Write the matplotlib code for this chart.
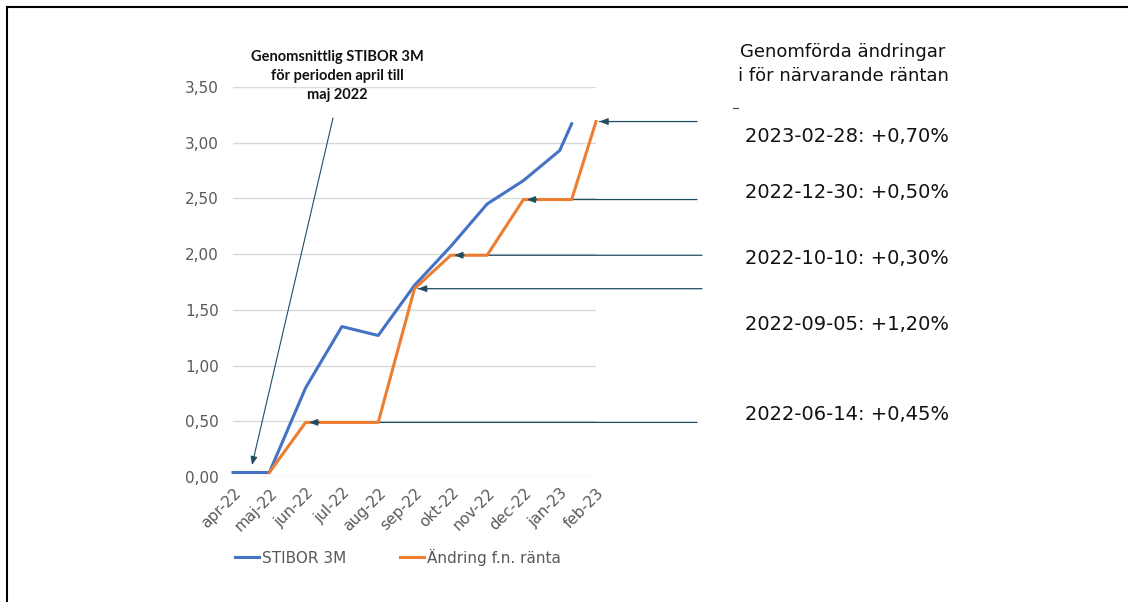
import matplotlib
matplotlib.use("Agg")
import matplotlib.pyplot as plt
from matplotlib.lines import Line2D

# data
months = ["apr-22", "maj-22", "jun-22", "jul-22", "aug-22", "sep-22",
          "okt-22", "nov-22", "dec-22", "jan-23", "feb-23"]
# x as month index (0 = apr-22); last STIBOR point falls part way into jan-feb
stibor_x = [0, 1, 2, 3, 4, 5, 6, 7, 8, 9, 9.33]
stibor_y = [0.04, 0.04, 0.80, 1.35, 1.27, 1.72, 2.07, 2.45, 2.66, 2.93, 3.17]
rate_x = [1, 2, 3, 4, 5, 6, 7, 8, 9, 9.33, 10]
rate_y = [0.04, 0.49, 0.49, 0.49, 1.69, 1.99, 1.99, 2.49, 2.49, 2.49, 3.19]

# rate changes (newest first) and where the arrow hits the orange line
change_labels = ["2023-02-28: +0,70%", "2022-12-30: +0,50%", "2022-10-10: +0,30%",
                 "2022-09-05: +1,20%", "2022-06-14: +0,45%"]
change_x = [10, 8, 6, 5, 2]
change_y = [3.19, 2.49, 1.99, 1.69, 0.49]
label_ypix = [137, 192, 258, 324, 414]

W, H = 1128, 602
fig = plt.figure(figsize=(W / 100, H / 100), dpi=100)
fig.patch.set_facecolor("white")

x0, x1, y0, y1 = 233, 596, 477, 87
ax = fig.add_axes([x0 / W, 1 - y0 / H, (x1 - x0) / W, (y0 - y1) / H])

blue = "#4472C4"
orange = "#ED7D31"
gray = "#595959"
arrow_col = "#1F4E63"

ax.plot(stibor_x, stibor_y, color=blue, lw=2.2, label="STIBOR 3M", clip_on=False, zorder=5)
ax.plot(rate_x, rate_y, color=orange, lw=2.2, label="Ändring f.n. ränta", clip_on=False, zorder=5)

ax.set_xlim(0, 10)
ax.set_ylim(0, 3.5)
ax.set_yticks([0, 0.5, 1, 1.5, 2, 2.5, 3, 3.5])
ax.set_yticklabels([f"{v:.2f}".replace(".", ",") for v in ax.get_yticks()])
ax.set_xticks(range(len(months)))
ax.set_xticklabels(months, rotation=45, ha="right", rotation_mode="anchor")
ax.tick_params(axis="both", length=0, labelsize=11, labelcolor=gray)
ax.tick_params(axis="y", pad=10)
ax.tick_params(axis="x", pad=6)
ax.grid(axis="y", color="#D9D9D9", lw=1)
ax.set_axisbelow(True)
for s in ax.spines.values():
    s.set_visible(False)

# arrows from the right pointing at each change
px = (x1 - x0) / 10.0
py = (y0 - y1) / 3.5
tail_pix = [697, 697, 702, 702, 697]
head_style = "-|>,head_length=0.5,head_width=0.2"
for cx, cy, tp in zip(change_x, change_y, tail_pix):
    hx = cx + 3.5 / px
    # shaft below the lines
    ax.annotate("", xy=(hx, cy), xytext=((tp - x0) / px, cy),
                arrowprops=dict(arrowstyle="-", color=arrow_col, lw=0.9,
                                shrinkA=0, shrinkB=0),
                annotation_clip=False, zorder=4)
    # head on top
    ax.annotate("", xy=(hx, cy), xytext=(hx + 10 / px, cy),
                arrowprops=dict(arrowstyle=head_style, color=arrow_col, lw=0.9,
                                shrinkA=0, shrinkB=0),
                annotation_clip=False, zorder=6)

# long arrow to the apr-maj average
ax.annotate("", xy=((252 - x0) / px, (y0 - 465) / py),
            xytext=((333 - x0) / px, (y0 - 118) / py),
            arrowprops=dict(arrowstyle=head_style, color=arrow_col, lw=0.8,
                            shrinkA=0, shrinkB=0),
            annotation_clip=False)

fig.text(337 / W, 1 - 76 / H, "Genomsnittlig STIBOR 3M\nför perioden april till\nmaj 2022",
         ha="center", va="center", fontsize=10.5, fontweight="bold",
         family="Lato", linespacing=1.5, color="#111111")

fig.text(843 / W, 1 - 64 / H, "Genomförda ändringar\ni för närvarande räntan",
         ha="center", va="center", fontsize=13, linespacing=1.45, color="#111111")

for lab, yp in zip(change_labels, label_ypix):
    fig.text(745 / W, 1 - yp / H, lab, ha="left", va="center", fontsize=14, color="#111111")

# small stray dash
fig.add_artist(Line2D([733 / W, 738 / W], [1 - 108 / H, 1 - 108 / H], color=arrow_col, lw=0.8))

# frame lines (top and left)
fig.add_artist(Line2D([7 / W, 1.0], [1 - 7 / H, 1 - 7 / H], color="black", lw=1.5))
fig.add_artist(Line2D([7 / W, 7 / W], [0, 1 - 7 / H], color="black", lw=1.5))

fig.legend(loc="center", bbox_to_anchor=(398 / W, 1 - 557 / H), ncol=2, frameon=False,
           fontsize=11, labelcolor=gray, handlelength=1.6, handletextpad=0.2,
           columnspacing=3.5)

fig.savefig("out.png", dpi=100, facecolor="white")
